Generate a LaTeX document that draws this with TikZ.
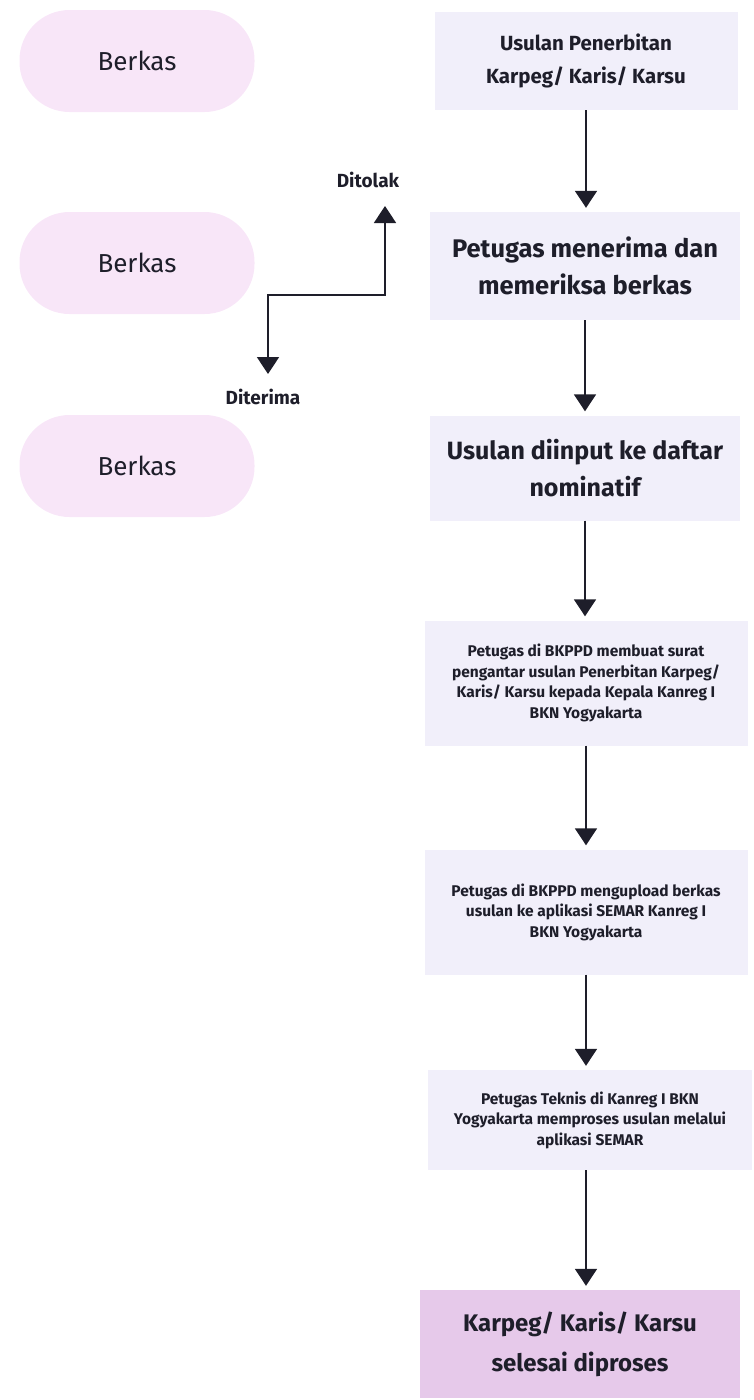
\documentclass[tikz,border=0pt]{standalone}
\usepackage{fontspec}
\setmainfont{Fira Sans}
\usetikzlibrary{arrows.meta}

\definecolor{pillpink}{HTML}{F8E6F8}
\definecolor{boxlav}{HTML}{F1EFFA}
\definecolor{donepurple}{HTML}{E6C9EA}
\definecolor{inkdark}{HTML}{1E1E2A}

\begin{document}
\begin{tikzpicture}[x=1pt,y=-1pt]
\tikzstyle{every node}=[text=inkdark]
\tikzstyle{pill}=[fill=pillpink, rounded corners=50pt, minimum width=235pt, minimum height=102pt, font=\fontsize{26}{30}\selectfont]
\tikzstyle{stepbox}=[fill=boxlav, align=center, font=\bfseries\fontsize{20.5}{33}\selectfont]
\tikzstyle{smallbox}=[stepbox, font=\bfseries\fontsize{15.5}{20.5}\selectfont]
\tikzstyle{arr}=[line width=1.8pt, draw=inkdark, -{Triangle[width=22pt,length=17pt]}, shorten >=4pt]
\tikzstyle{lbl}=[font=\bfseries\fontsize{19}{22}\selectfont]

\useasboundingbox (0,0) rectangle (754,1400);

% berkas column
\node[pill] (berkasA) at (137,61) {Berkas};
\node[pill] (berkasB) at (137,263) {Berkas};
\node[pill] (berkasC) at (137,466) {Berkas};

% process column
\node[stepbox, minimum width=303pt, minimum height=98pt] (usulan) at (586,61) {Usulan Penerbitan\\Karpeg/ Karis/ Karsu};
\node[stepbox, minimum width=310pt, minimum height=108pt, font=\bfseries\fontsize{25.5}{37}\selectfont] (periksa) at (585,266) {Petugas menerima dan\\memeriksa berkas};
\node[stepbox, minimum width=310pt, minimum height=105pt, font=\bfseries\fontsize{25}{37}\selectfont] (input) at (585,468) {Usulan diinput ke daftar\\nominatif};
\node[smallbox, minimum width=323pt, minimum height=125pt] (surat) at (586,683) {Petugas di BKPPD membuat surat\\pengantar usulan Penerbitan Karpeg/\\Karis/ Karsu kepada Kepala Kanreg I\\BKN Yogyakarta};
\node[smallbox, minimum width=323pt, minimum height=125pt] (upload) at (586,912) {Petugas di BKPPD mengupload berkas\\usulan ke aplikasi SEMAR Kanreg I\\BKN Yogyakarta};
\node[smallbox, minimum width=324pt, minimum height=100pt] (teknis) at (590,1120) {Petugas Teknis di Kanreg I BKN\\Yogyakarta memproses usulan melalui\\aplikasi SEMAR};
\node[stepbox, fill=donepurple, minimum width=320pt, minimum height=108pt, font=\bfseries\fontsize{24}{40}\selectfont] (selesai) at (580,1344) {Karpeg/ Karis/ Karsu\\selesai diproses};

% decision
\node[lbl] (ditolak) at (368,180) {Ditolak};
\node[lbl] (diterima) at (263,397) {Diterima};
\coordinate (tolak) at (385,206);
\coordinate (terima) at (268,374);
\coordinate (cabang) at (326,295);
\draw[arr, shorten >=0pt] (cabang) -| (tolak);
\draw[arr, shorten >=0pt] (cabang) -| (terima);

% flow
\draw[arr] (usulan.south) -- (usulan.south |- periksa.north);
\draw[arr] (periksa.south) -- (periksa.south |- input.north);
\draw[arr] (input.south) -- (input.south |- surat.north);
\draw[arr] (surat.south) -- (surat.south |- upload.north);
\draw[arr] (upload.south) -- (upload.south |- teknis.north);
\draw[arr] (teknis.south -| upload.south) -- (upload.south |- selesai.north);

\end{tikzpicture}
\end{document}
